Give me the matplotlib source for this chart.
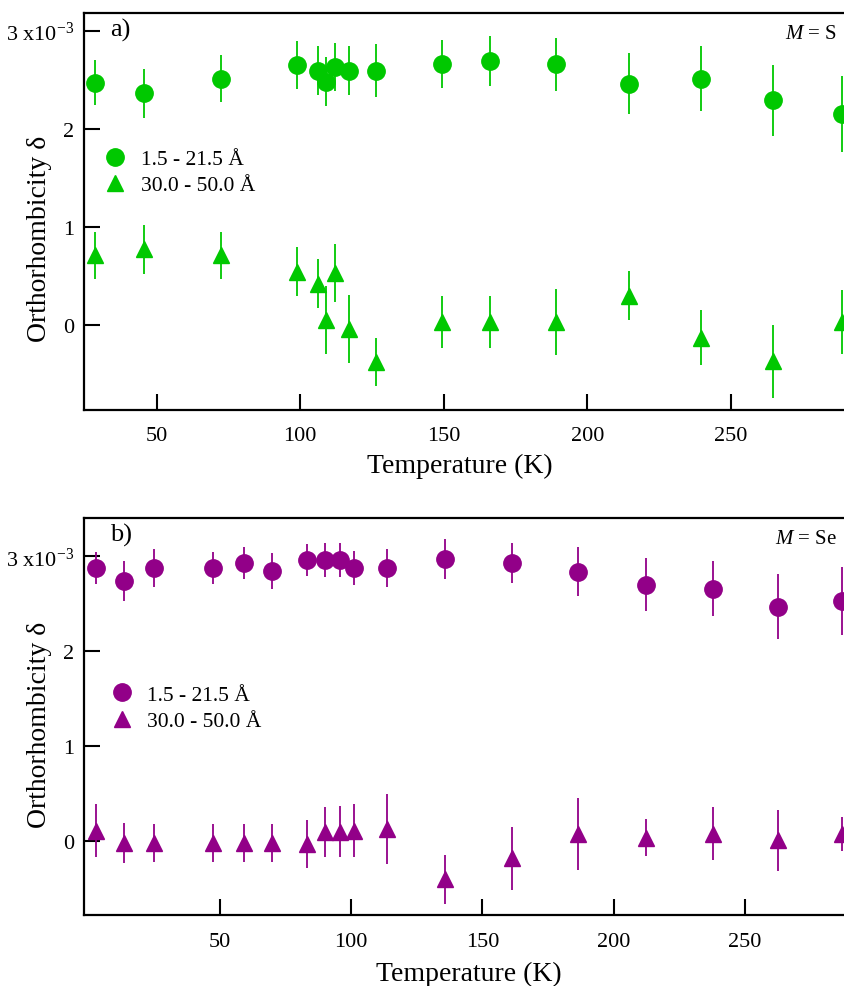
import numpy as np
import matplotlib
matplotlib.use('Agg')
import matplotlib.pyplot as plt
from matplotlib.ticker import FixedLocator

plt.rcParams['font.family'] = ['Liberation Serif', 'DejaVu Serif']
plt.rcParams['mathtext.fontset'] = 'custom'
plt.rcParams['mathtext.rm'] = 'Liberation Serif'
plt.rcParams['mathtext.it'] = 'Liberation Serif:italic'

# Panel a) M = S
temp_s = [28.7, 45.5, 72.5, 98.7, 106.2, 108.9, 112.0, 116.9, 126.5, 149.3,
          166.0, 188.9, 214.6, 239.5, 264.5, 288.6]
delta_s_low = [2.47, 2.36, 2.51, 2.65, 2.59, 2.48, 2.63, 2.59, 2.59, 2.66,
               2.69, 2.66, 2.46, 2.51, 2.29, 2.15]
err_s_low = [0.23, 0.25, 0.24, 0.245, 0.25, 0.25, 0.245, 0.25, 0.27, 0.24,
             0.255, 0.27, 0.31, 0.33, 0.36, 0.39]
delta_s_high = [0.71, 0.77, 0.71, 0.54, 0.42, 0.05, 0.53, -0.04, -0.38, 0.03,
                0.03, 0.03, 0.30, -0.13, -0.37, 0.03]
err_s_high = [0.24, 0.25, 0.24, 0.25, 0.25, 0.35, 0.30, 0.35, 0.245, 0.27,
              0.27, 0.34, 0.25, 0.28, 0.37, 0.33]

# Panel b) M = Se
temp_se = [2.8, 13.4, 24.9, 47.2, 59.1, 69.7, 83.0, 90.2, 95.7, 100.9,
           113.5, 135.9, 161.3, 186.5, 212.2, 237.7, 262.7, 286.8]
delta_se_low = [2.88, 2.74, 2.88, 2.88, 2.93, 2.85, 2.96, 2.96, 2.96, 2.88,
                2.88, 2.97, 2.93, 2.84, 2.70, 2.66, 2.47, 2.53]
err_se_low = [0.17, 0.21, 0.20, 0.17, 0.17, 0.19, 0.17, 0.18, 0.18, 0.18,
              0.20, 0.21, 0.21, 0.26, 0.28, 0.29, 0.34, 0.36]
delta_se_high = [0.11, -0.02, -0.02, -0.02, -0.02, -0.02, -0.03, 0.10, 0.10, 0.11,
                 0.13, -0.40, -0.18, 0.08, 0.04, 0.08, 0.01, 0.08]
err_se_high = [0.28, 0.21, 0.20, 0.20, 0.20, 0.20, 0.25, 0.26, 0.27, 0.28,
               0.37, 0.26, 0.33, 0.38, 0.19, 0.28, 0.32, 0.18]

y_ticks = [0, 1, 2, 3]
y_ticklabels = ['0', '1', '2', '3 x10$^{-3}$']
x_ticks = [50, 100, 150, 200, 250]
labels = [u'1.5 - 21.5 \u00c5', u'30.0 - 50.0 \u00c5']

fig = plt.figure(figsize=(8.45, 9.87), dpi=100)
ax_a = fig.add_axes([0.0994, 0.5839, 0.9065, 0.4019])
ax_b = fig.add_axes([0.0994, 0.0719, 0.9065, 0.4019])


def draw_panel(ax, temp, d_low, e_low, d_high, e_high, color, xlim, ylim,
               tag, metal, leg_xy, xlab_xy, ylab_xy):
    # error bars first, markers on top (legend shows markers only)
    ax.errorbar(temp, d_low, yerr=e_low, fmt='none', ecolor=color,
                elinewidth=1.3, capsize=0)
    ax.errorbar(temp, d_high, yerr=e_high, fmt='none', ecolor=color,
                elinewidth=1.3, capsize=0)
    ax.plot(temp, d_low, 'o', ms=12.5, color=color, label=labels[0])
    ax.plot(temp, d_high, '^', ms=11.5, color=color, label=labels[1])

    ax.set_xlim(*xlim)
    ax.set_ylim(*ylim)
    ax.xaxis.set_major_locator(FixedLocator(x_ticks))
    ax.yaxis.set_major_locator(FixedLocator(y_ticks))
    ax.set_yticklabels(y_ticklabels)
    ax.tick_params(direction='in', length=11.5, width=1.5, labelsize=16,
                   top=False, right=False)
    ax.tick_params(axis='x', pad=12)
    ax.tick_params(axis='y', pad=7)
    for side in ['left', 'bottom', 'top']:
        ax.spines[side].set_linewidth(1.6)
    ax.spines['right'].set_visible(False)

    ax.set_xlabel('Temperature (K)', fontsize=20)
    ax.set_ylabel(u'Orthorhombicity \u03b4', fontsize=20)
    ax.xaxis.set_label_coords(*xlab_xy)
    ax.yaxis.set_label_coords(*ylab_xy)

    ax.text(0.034, 0.988, tag, transform=ax.transAxes, fontsize=19,
            ha='left', va='top')
    ax.text(0.983, 0.972, metal, transform=ax.transAxes, fontsize=15,
            ha='right', va='top')

    ax.legend(loc='center left', bbox_to_anchor=leg_xy, frameon=False,
              fontsize=15.5, handlelength=1.0, handletextpad=0.7,
              labelspacing=0.28, borderpad=0, borderaxespad=0)
    return ax


draw_panel(ax_a, temp_s, delta_s_low, err_s_low, delta_s_high, err_s_high,
           '#00c800', (24.7, 291.4), (-0.864, 3.18), 'a)', '$\\mathit{M}$ = S',
           (0.026, 0.599), (0.491, -0.11), (-0.042, 0.433))
draw_panel(ax_b, temp_se, delta_se_low, err_se_low, delta_se_high, err_se_high,
           '#920088', (-1.8, 290.0), (-0.776, 3.40), 'b)', '$\\mathit{M}$ = Se',
           (0.035, 0.522), (0.503, -0.115), (-0.042, 0.481))

plt.savefig('out.png', dpi=100)
